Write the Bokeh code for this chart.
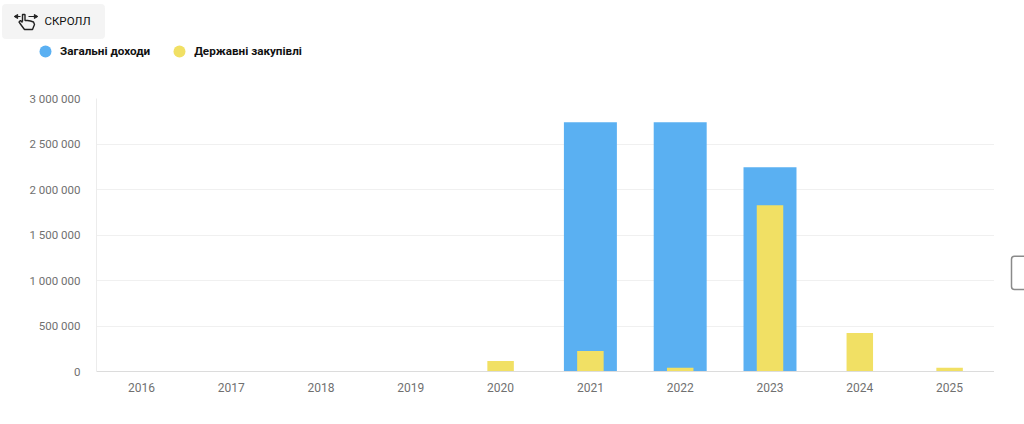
from bokeh.plotting import figure
from bokeh.layouts import column, row
from bokeh.models import FactorRange, Range1d, FixedTicker, Legend, LegendItem, Label
from bokeh.embed import file_html
from bokeh.resources import INLINE

years = ["2016", "2017", "2018", "2019", "2020", "2021", "2022", "2023", "2024", "2025"]
total_income = [0, 0, 0, 0, 0, 2740000, 2740000, 2245000, 0, 0]
procurement = [0, 0, 0, 0, 115000, 225000, 42000, 1826000, 422000, 42000]
y_ticks = [0, 500000, 1000000, 1500000, 2000000, 2500000, 3000000]
y_labels = ["0", "500 000", "1 000 000", "1 500 000", "2 000 000", "2 500 000", "3 000 000"]
series_names = ["Загальні доходи", "Державні закупівлі"]

BLUE = "#5ab0f2"
YELLOW = "#f1e064"
FONT = "Roboto"
HEAD_H = 88


def blank(width, height, x0, x1, y0, y1):
    f = figure(width=width, height=height, output_backend="svg", toolbar_location=None,
               x_range=Range1d(x0, x1), y_range=Range1d(y1, y0),
               x_axis_type=None, y_axis_type=None,
               min_border_left=0, min_border_right=0, min_border_top=0, min_border_bottom=0)
    f.outline_line_color = None
    f.grid.visible = False
    return f


# header: scroll button and legend (page pixel coordinates)
h = blank(1024, HEAD_H, 0, 1024, 0, HEAD_H)
h.quad(left=2, right=104, top=4, bottom=38, fill_color="#f4f4f4", line_color="#f4f4f4",
       border_radius=3)
h.add_layout(Label(x=44, y=20, text="СКРОЛЛ", text_font=FONT, text_font_size="11.5px",
                   text_font_style="normal", text_color="#111111", text_baseline="middle"))
hand_x = [22, 22, 24.5, 24.5, 27, 30, 33, 34, 32, 24, 21, 18.5, 20, 22]
hand_y = [21, 14, 14, 20, 20, 20.5, 21.5, 24, 29, 29, 25, 21.5, 20, 22]
h.line(hand_x, hand_y, line_color="#222222", line_width=1.4)
h.line([15, 20], [16, 16], line_color="#222222", line_width=1.2)
h.line([28, 35], [16, 16], line_color="#222222", line_width=1.2)
h.scatter([16, 35], [16, 16], marker="triangle", size=4, angle=[1.57, -1.57],
          fill_color="#222222", line_color="#222222")

# legend keys: markers outside the visible range, so only the legend shows them.
# A legend draws a marker at 0.4 x the glyph box, so a 30px box gives a 12px dot.
r1 = h.scatter([-50], [-50], marker="circle", size=12, fill_color=BLUE, line_color=None)
r2 = h.scatter([-50], [-50], marker="circle", size=12, fill_color=YELLOW, line_color=None)
legend = Legend(items=[LegendItem(label=series_names[0], renderers=[r1]),
                       LegendItem(label=series_names[1], renderers=[r2])],
                orientation="horizontal", location=(30, HEAD_H - 66),
                background_fill_alpha=0, border_line_color=None,
                label_text_font=FONT, label_text_font_size="11.7px",
                label_text_font_style="bold", label_text_color="#111111",
                glyph_width=30, glyph_height=30, spacing=14, margin=0, padding=0,
                label_standoff=-2)
h.add_layout(legend, "center")

# main chart
p = figure(width=994, height=336, output_backend="svg", toolbar_location=None,
           x_range=FactorRange(factors=years, range_padding=0),
           y_range=Range1d(0, 3000000),
           min_border_left=96, min_border_right=0, min_border_top=10, min_border_bottom=53)
p.outline_line_color = None

p.vbar(x=years, top=total_income, width=0.59, fill_color=BLUE, line_color=None)
p.vbar(x=years, top=procurement, width=0.295, fill_color=YELLOW, line_color=None)

p.xgrid.visible = False
p.ygrid.grid_line_color = "#f0f0f0"
p.ygrid.ticker = FixedTicker(ticks=y_ticks)

p.yaxis.ticker = FixedTicker(ticks=y_ticks)
p.yaxis.major_label_overrides = dict(zip(y_ticks, y_labels))
p.yaxis.axis_line_color = "#ececec"
p.yaxis.major_tick_line_color = None
p.yaxis.minor_tick_line_color = None
p.yaxis.major_label_text_font = FONT
p.yaxis.major_label_text_font_size = "11.5px"
p.yaxis.major_label_text_color = "#707070"
p.yaxis.major_label_standoff = 10

p.xaxis.axis_line_color = "#dcdcdc"
p.xaxis.major_tick_line_color = None
p.xaxis.minor_tick_line_color = None
p.xaxis.major_label_text_font = FONT
p.xaxis.major_label_text_font_size = "12px"
p.xaxis.major_label_text_color = "#707070"
p.xaxis.major_label_standoff = 5

# right strip with the partly visible box
s = blank(30, 336, 994, 1024, HEAD_H, HEAD_H + 336)
s.quad(left=1011, right=1034, top=282, bottom=323, fill_color="white", line_color="#8a8a8a",
       line_width=1.5, border_radius=3)

page = column(h, row(p, s, spacing=0), spacing=0)
open("out.html", "w").write(file_html(page, INLINE))
